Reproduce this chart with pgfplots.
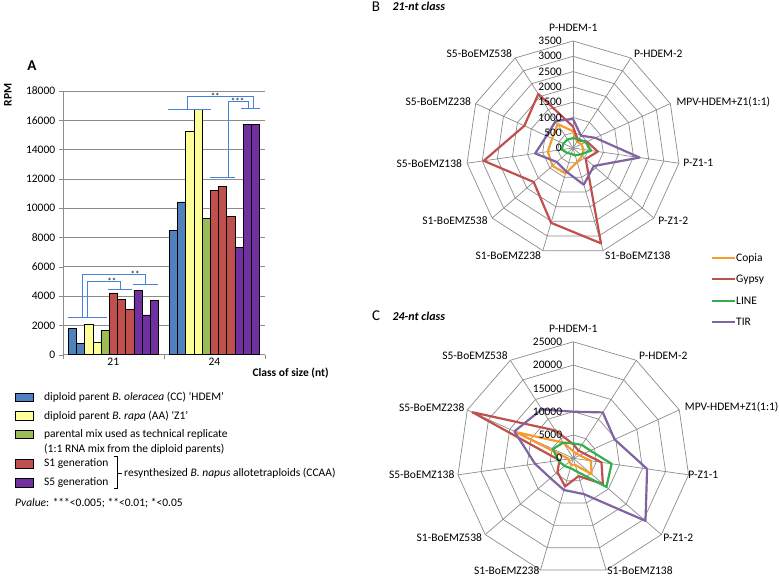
\documentclass[border=0pt]{standalone}
\usepackage{fontspec}
\setmainfont{Carlito}
\usepackage{pgfplots}
\usepackage{pgfplotstable}
\pgfplotsset{compat=1.18}
\usepgfplotslibrary{polar}

\definecolor{cblue}{RGB}{79,129,189}
\definecolor{cyel}{RGB}{255,255,153}
\definecolor{cgreen}{RGB}{155,187,89}
\definecolor{cred}{RGB}{192,80,77}
\definecolor{cpurp}{RGB}{112,48,160}
\definecolor{brk}{RGB}{70,130,215}
\definecolor{gridc}{RGB}{140,140,140}
\definecolor{rcopia}{RGB}{247,155,45}
\definecolor{rgypsy}{RGB}{192,80,77}
\definecolor{rline}{RGB}{50,176,75}
\definecolor{rtir}{RGB}{128,100,162}

\newcommand{\fs}{\fontsize{11.5}{13.5}\selectfont}

% radar angles (clockwise from top, 11 axes)
\pgfplotstableread{
a one
90 1
57.273 1
24.545 1
-8.182 1
-40.909 1
-73.636 1
-106.364 1
-139.091 1
-171.818 1
-204.545 1
-237.273 1
-270 1
}\angtab

% 21-nt class
\pgfplotstableread{
a copia gypsy line tir
90 550 700 320 950
57.273 250 300 350 480
24.545 300 500 450 800
-8.182 350 820 600 2200
-40.909 400 550 320 900
-73.636 480 3250 250 1250
-106.364 870 2550 200 800
-139.091 890 1700 250 700
-171.818 830 2950 370 1250
-204.545 750 1750 350 950
-237.273 930 2100 330 1050
-270 550 700 320 950
}\tabB

% 24-nt class
\pgfplotstableread{
a copia gypsy line tir
90 1500 3000 3200 10000
57.273 1200 2000 3400 11700
24.545 1500 2500 4000 9750
-8.182 3800 6100 8300 16000
-40.909 5200 8400 9400 20500
-73.636 1500 4000 3000 8000
-106.364 1500 6300 2200 7100
-139.091 1200 4500 2500 6500
-171.818 1000 3000 3300 8300
-204.545 13500 23800 4800 13900
-237.273 4000 7100 4000 12500
-270 1500 3000 3200 10000
}\tabC

\begin{document}
\begin{tikzpicture}
\path[use as bounding box] (0,0) rectangle (779pt,578pt);

% ---------------- Panel A ----------------
\begin{axis}[
  at={(62.7pt,223.3pt)}, anchor=south west,
  scale only axis, width=202.3pt, height=263.7pt,
  xmin=-0.5, xmax=1.5, ymin=0, ymax=18000,
  axis lines=left, axis line style={gridc,-},
  ytick={0,2000,4000,6000,8000,10000,12000,14000,16000,18000},
  ymajorgrids, grid style={gridc, line width=0.7pt},
  xtick={-0.5,0.5,1.5}, xticklabels={},
  extra x ticks={0,1}, extra x tick labels={21,24},
  extra x tick style={grid=none, major tick length=0pt},
  tick align=outside, major tick length=4pt,
  tick style={gridc},
  scaled y ticks=false,
  /pgf/number format/1000 sep={},
  /pgf/number format/assume math mode=true,
  tick label style={font=\fs, text=black},
  clip=false,
]
\addplot[ybar, bar width=0.081, bar shift=0pt, fill=cblue, draw=black, line width=0.5pt]
  coordinates {(-0.405,1800) (-0.324,770) (0.595,8470) (0.676,10430)};
\addplot[ybar, bar width=0.081, bar shift=0pt, fill=cyel, draw=black, line width=0.5pt]
  coordinates {(-0.243,2080) (-0.162,840) (0.757,15280) (0.838,16720)};
\addplot[ybar, bar width=0.081, bar shift=0pt, fill=cgreen, draw=black, line width=0.5pt]
  coordinates {(-0.081,1640) (0.919,9300)};
\addplot[ybar, bar width=0.081, bar shift=0pt, fill=cred, draw=black, line width=0.5pt]
  coordinates {(0,4220) (0.081,3770) (0.162,3100) (1,11240) (1.081,11510) (1.162,9420)};
\addplot[ybar, bar width=0.081, bar shift=0pt, fill=cpurp, draw=black, line width=0.5pt]
  coordinates {(0.243,4410) (0.324,2710) (0.405,3710) (1.243,7330) (1.324,15730) (1.405,15710)};

% significance brackets
\draw[brk, line width=0.8pt] (axis cs:-0.444,2550) -- (axis cs:-0.064,2550);
\draw[brk, line width=0.8pt] (axis cs:-0.302,2550) -- (axis cs:-0.302,5485) -- (axis cs:0.322,5485) -- (axis cs:0.322,4825);
\draw[brk, line width=0.8pt] (axis cs:0.193,4825) -- (axis cs:0.447,4825);
\draw[brk, line width=0.8pt] (axis cs:-0.256,2550) -- (axis cs:-0.256,4985) -- (axis cs:0.074,4985) -- (axis cs:0.074,4460);
\draw[brk, line width=0.8pt] (axis cs:-0.048,4460) -- (axis cs:0.183,4460);
\node[anchor=base, font=\fontsize{9}{10}\selectfont, inner sep=0pt] at (axis cs:0.216,5300) {**};
\node[anchor=base, font=\fontsize{9}{10}\selectfont, inner sep=0pt] at (axis cs:-0.015,4800) {**};

\draw[brk, line width=0.8pt] (axis cs:0.54,16750) -- (axis cs:0.965,16750);
\draw[brk, line width=0.8pt] (axis cs:0.737,16750) -- (axis cs:0.737,17660) -- (axis cs:1.387,17660) -- (axis cs:1.387,16820);
\draw[brk, line width=0.8pt] (axis cs:1.262,16820) -- (axis cs:1.447,16820);
\draw[brk, line width=0.8pt] (axis cs:0.952,12110) -- (axis cs:1.206,12110);
\draw[brk, line width=0.8pt] (axis cs:1.14,12110) -- (axis cs:1.14,17300) -- (axis cs:1.337,17300) -- (axis cs:1.337,16820);
\node[anchor=base, font=\fontsize{9}{10}\selectfont, inner sep=0pt] at (axis cs:1.008,17450) {**};
\node[anchor=base, font=\fontsize{9}{10}\selectfont, inner sep=0pt] at (axis cs:1.23,17100) {***};
\end{axis}

\node[rotate=90, font=\fs\bfseries] at (8pt,483pt) {RPM};
\node[anchor=west, font=\fs\bfseries] at (249pt,205.3pt) {Class of size (nt)};
\node[font=\fontsize{15}{17}\selectfont\bfseries] at (32pt,512pt) {A};

% legend A
\draw[black, line width=0.5pt, fill=cblue] (15pt,176.4pt) rectangle (33pt,184.8pt);
\draw[black, line width=0.5pt, fill=cyel] (15pt,158pt) rectangle (33pt,166.4pt);
\draw[black, line width=0.5pt, fill=cgreen] (15pt,139.6pt) rectangle (33pt,148pt);
\draw[black, line width=0.5pt, fill=cred] (15pt,110pt) rectangle (33pt,118.4pt);
\draw[black, line width=0.5pt, fill=cpurp] (15pt,91pt) rectangle (33pt,99.4pt);
\node[anchor=west, font=\fs, inner sep=0pt] at (44pt,180.6pt) {diploid parent \textit{B. oleracea} (CC) ‘HDEM’};
\node[anchor=west, font=\fs, inner sep=0pt] at (44pt,162.2pt) {diploid parent \textit{B. rapa} (AA) ‘Z1’};
\node[anchor=west, font=\fs, inner sep=0pt] at (44pt,143.8pt) {parental mix used as technical replicate};
\node[anchor=west, font=\fs, inner sep=0pt] at (44pt,128.8pt) {(1:1 RNA mix from the diploid parents)};
\node[anchor=west, font=\fs, inner sep=0pt] at (44pt,114.2pt) {S1 generation};
\node[anchor=west, font=\fs, inner sep=0pt] at (44pt,95.2pt) {S5 generation};
\draw[black, line width=0.5pt] (114.3pt,121.3pt) -- (117.7pt,121.3pt) -- (117.7pt,89.7pt) -- (114.3pt,89.7pt);
\draw[black, line width=0.5pt] (117.7pt,105pt) -- (122pt,105pt);
\node[anchor=west, font=\fs, inner sep=0pt] at (124pt,105pt) {resynthesized \textit{B. napus} allotetraploids (CCAA)};
\node[anchor=west, font=\fs, inner sep=0pt] at (15pt,74.7pt) {\textit{Pvalue}: ***<0.005; **<0.01; *<0.05};

% ---------------- Panel B ----------------
\begin{axis}[
  at={(573pt,430pt)}, anchor=center,
  scale only axis, width=214pt, height=214pt,
  xmin=-3500, xmax=3500, ymin=-3500, ymax=3500,
  hide axis, clip=false,
]
\pgfplotsinvokeforeach{500,1000,1500,2000,2500,3000,3500}{
  \addplot[gridc, line width=0.7pt, data cs=polar] table[x=a, y expr={#1*\thisrow{one}}] {\angtab};
}
\pgfplotsinvokeforeach{90,57.273,24.545,-8.182,-40.909,-73.636,-106.364,-139.091,-171.818,-204.545,-237.273}{
  \addplot[gridc, line width=0.7pt, data cs=polar] coordinates {(#1,0) (#1,3500)};
}
\addplot[rcopia, line width=2.2pt, line join=round, data cs=polar] table[x=a, y=copia] {\tabB};
\addplot[rgypsy, line width=2.2pt, line join=round, data cs=polar] table[x=a, y=gypsy] {\tabB};
\addplot[rline, line width=2.2pt, line join=round, data cs=polar] table[x=a, y=line] {\tabB};
\addplot[rtir, line width=2.2pt, line join=round, data cs=polar] table[x=a, y=tir] {\tabB};
\pgfplotsinvokeforeach{0,500,1000,1500,2000,2500,3000,3500}{
  \node[anchor=east, font=\fs, inner sep=0pt, xshift=-11pt] at (axis cs:0,#1) {#1};
}
\end{axis}

\node[font=\fontsize{15}{17}\selectfont] at (376pt,571.3pt) {B};
\node[anchor=west, font=\fontsize{12}{14}\selectfont\bfseries\itshape] at (389pt,571.3pt) {21-nt class};
\begin{scope}[font=\fs]
\node at (573.3pt,549.7pt) {P-HDEM-1};
\node at (658.3pt,524.7pt) {P-HDEM-2};
\node at (723.3pt,476.3pt) {MPV-HDEM+Z1(1:1)};
\node at (698.3pt,414.7pt) {P-Z1-1};
\node at (673.3pt,357.3pt) {P-Z1-2};
\node at (637.7pt,322.3pt) {S1-BoEMZ138};
\node at (508.3pt,322.3pt) {S1-BoEMZ238};
\node at (455pt,357.3pt) {S1-BoEMZ538};
\node at (429.3pt,414.7pt) {S5-BoEMZ138};
\node at (438.3pt,476.3pt) {S5-BoEMZ238};
\node at (479.3pt,524.7pt) {S5-BoEMZ538};
\end{scope}

% radar legend
\draw[rcopia, line width=2.2pt] (711.7pt,319.7pt) -- (735pt,319.7pt);
\node[anchor=west, font=\fs, inner sep=0pt] at (736pt,319.7pt) {Copia};
\draw[rgypsy, line width=2.2pt] (711.7pt,298.7pt) -- (735pt,298.7pt);
\node[anchor=west, font=\fs, inner sep=0pt] at (736pt,298.7pt) {Gypsy};
\draw[rline, line width=2.2pt] (711.7pt,277.3pt) -- (735pt,277.3pt);
\node[anchor=west, font=\fs, inner sep=0pt] at (736pt,277.3pt) {LINE};
\draw[rtir, line width=2.2pt] (711.7pt,255.7pt) -- (735pt,255.7pt);
\node[anchor=west, font=\fs, inner sep=0pt] at (736pt,255.7pt) {TIR};

% ---------------- Panel C ----------------
\begin{axis}[
  at={(573.3pt,119.7pt)}, anchor=center,
  scale only axis, width=233pt, height=233pt,
  xmin=-25000, xmax=25000, ymin=-25000, ymax=25000,
  hide axis, clip=false,
]
\pgfplotsinvokeforeach{5000,10000,15000,20000,25000}{
  \addplot[gridc, line width=0.7pt, data cs=polar] table[x=a, y expr={#1*\thisrow{one}}] {\angtab};
}
\pgfplotsinvokeforeach{90,57.273,24.545,-8.182,-40.909,-73.636,-106.364,-139.091,-171.818,-204.545,-237.273}{
  \addplot[gridc, line width=0.7pt, data cs=polar] coordinates {(#1,0) (#1,25000)};
}
\addplot[rcopia, line width=2.2pt, line join=round, data cs=polar] table[x=a, y=copia] {\tabC};
\addplot[rgypsy, line width=2.2pt, line join=round, data cs=polar] table[x=a, y=gypsy] {\tabC};
\addplot[rline, line width=2.2pt, line join=round, data cs=polar] table[x=a, y=line] {\tabC};
\addplot[rtir, line width=2.2pt, line join=round, data cs=polar] table[x=a, y=tir] {\tabC};
\pgfplotsinvokeforeach{0,5000,10000,15000,20000,25000}{
  \node[anchor=east, font=\fs, inner sep=0pt, xshift=-11pt] at (axis cs:0,#1) {#1};
}
\end{axis}

\node[font=\fontsize{15}{17}\selectfont] at (376pt,262pt) {C};
\node[anchor=west, font=\fontsize{12}{14}\selectfont\bfseries\itshape] at (389pt,262pt) {24-nt class};
\begin{scope}[font=\fs]
\node at (573.3pt,248.7pt) {P-HDEM-1};
\node at (663.3pt,222pt) {P-HDEM-2};
\node at (731.7pt,170.7pt) {MPV-HDEM+Z1(1:1)};
\node at (703.3pt,103pt) {P-Z1-1};
\node at (678.3pt,40.7pt) {P-Z1-2};
\node[anchor=south, inner sep=0pt] at (640pt,3pt) {S1-BoEMZ138};
\node[anchor=south, inner sep=0pt] at (506.7pt,3pt) {S1-BoEMZ238};
\node at (449.3pt,40.7pt) {S1-BoEMZ538};
\node at (421.7pt,103pt) {S5-BoEMZ138};
\node at (431.7pt,170.7pt) {S5-BoEMZ238};
\node at (475pt,222pt) {S5-BoEMZ538};
\end{scope}
\end{tikzpicture}
\end{document}
